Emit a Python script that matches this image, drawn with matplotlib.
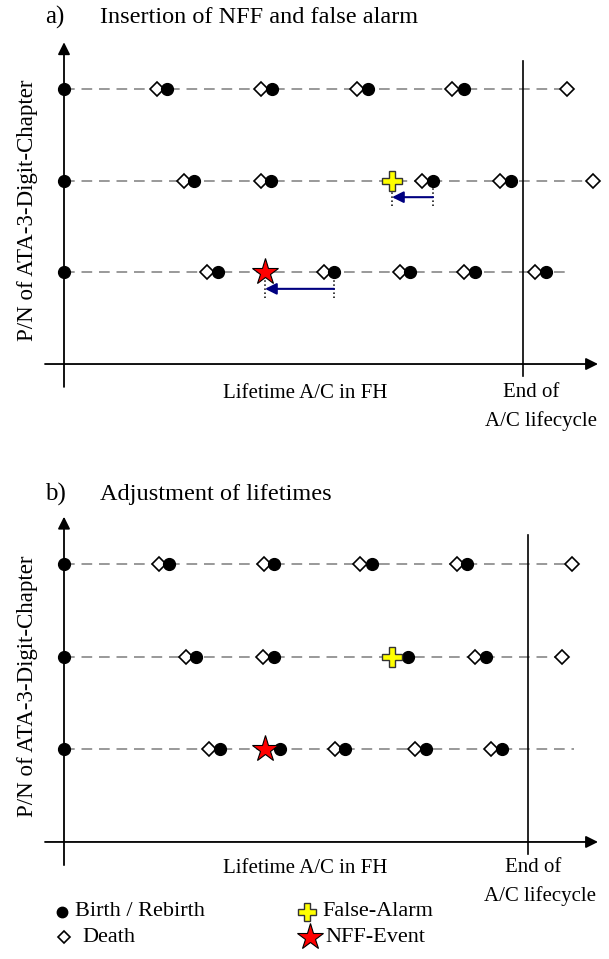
import matplotlib.pyplot as plt

plt.rcParams['font.family'] = ['Liberation Serif', 'DejaVu Serif']

# lifetimes in FH, rows from bottom (1) to top (3)
A_BIRTH = [
    [0, 15350, 27000, 34600, 41100, 48150],
    [0, 13000, 20700, 36900, 44700],
    [0, 10300, 20800, 30400, 40000],
]
A_DEATH = [
    [14300, 25950, 33550, 40000, 47100],
    [11950, 19650, 35800, 43600, 52900],
    [9250, 19650, 29300, 38800, 50300],
]
A_LINE_END = [50600, 52900, 50300]
A_NFF = [20100, 1]
A_FALSE_ALARM = [32800, 2]
A_SHIFT_FROM = [27000, 36900]
A_SHIFT_TO = [20100, 32800]
A_SHIFT_ROW = [1, 2]
A_EOL = 45900

B_BIRTH = [
    [0, 15550, 21600, 28100, 36200, 43750],
    [0, 13200, 20950, 34350, 42150],
    [0, 10450, 21000, 30750, 40300],
]
B_DEATH = [
    [14500, 27050, 35050, 42650],
    [12150, 19900, 41050, 49750],
    [9450, 20000, 29600, 39250, 50800],
]
B_LINE_END = [51000, 49750, 50800]
B_NFF = [20100, 1]
B_FALSE_ALARM = [32800, 2]
B_EOL = 46400

LEGEND_LABELS = ['Birth / Rebirth', 'Death', 'False-Alarm', 'NFF-Event']

DOT = dict(marker='o', ms=8.5, color='black', ls='none', zorder=4)
DIA = dict(marker='D', ms=7.2, mfc='white', mec='black', mew=1.2, ls='none', zorder=3)
STAR = dict(marker='*', ms=20, mfc='#ff0000', mec='black', mew=0.8, ls='none', zorder=5)
CROSS = dict(marker='P', ms=14, mfc='#ffff00', mec='#333333', mew=1.0, ls='none', zorder=5)
FS = 15


def axes_arrows(ax, x_end, y_top):
    ap = dict(arrowstyle='-|>', color='black', lw=1.3, mutation_scale=18, shrinkA=0, shrinkB=0)
    ax.annotate('', xy=(x_end, 0), xytext=(-1900, 0), arrowprops=ap)
    ax.annotate('', xy=(0, y_top), xytext=(0, -0.25), arrowprops=ap)


def draw_panel(ax, births, deaths, line_end, nff, fa, eol, letter, title, title_y):
    for i in range(3):
        row = i + 1
        l, = ax.plot([0, line_end[i]], [row, row], color='#999999', lw=1.4, zorder=1)
        l.set_dashes((5.5, 3.5))
        ax.plot(deaths[i], [row] * len(deaths[i]), **DIA)
        ax.plot(births[i], [row] * len(births[i]), **DOT)
    ax.plot([nff[0]], [nff[1]], **STAR)
    ax.plot([fa[0]], [fa[1]], **CROSS)
    axes_arrows(ax, 53400, 3.51)
    ax.plot([eol, eol], [-0.13, 3.31], color='black', lw=1.2, zorder=2)
    ax.text(-1900, title_y, letter, fontsize=18, va='center', ha='left')
    ax.text(3600, title_y, title, fontsize=17.5, va='center', ha='left')
    ax.text(-3600, 1.68, 'P/N of ATA-3-Digit-Chapter', fontsize=16.5, rotation=90,
            ha='center', va='center')


fig = plt.figure(figsize=(6.09, 9.59), dpi=100)

# a) insertion of NFF and false alarm
ax1 = fig.add_axes([0, 1 - 450 / 959, 1, 450 / 959])
ax1.set_xlim(-6400, 54500)
ax1.set_ylim(-0.938, 3.971)
ax1.axis('off')
draw_panel(ax1, A_BIRTH, A_DEATH, A_LINE_END, A_NFF, A_FALSE_ALARM, A_EOL,
           'a)', 'Insertion of NFF and false alarm', 3.785)
for i in range(2):
    r = A_SHIFT_ROW[i]
    for xv in (A_SHIFT_FROM[i], A_SHIFT_TO[i]):
        ax1.plot([xv, xv], [r - 0.28, r], color='black', ls=':', lw=1.1, zorder=2)
    ax1.annotate('', xy=(A_SHIFT_TO[i], r - 0.18), xytext=(A_SHIFT_FROM[i], r - 0.18),
                 arrowprops=dict(arrowstyle='-|>', color='#000080', lw=1.5,
                                 mutation_scale=17, shrinkA=0, shrinkB=0))
ax1.text(24100, -0.32, 'Lifetime A/C in FH', fontsize=FS, ha='center', va='center')
ax1.text(A_EOL + 800, -0.31, 'End of', fontsize=FS, ha='center', va='center')
ax1.text(A_EOL + 1800, -0.62, 'A/C lifecycle', fontsize=FS, ha='center', va='center')

# b) adjustment of lifetimes
ax2 = fig.add_axes([0, 0, 1, 489 / 959])
ax2.set_xlim(-6400, 54500)
ax2.set_ylim(-1.263, 4.014)
ax2.axis('off')
draw_panel(ax2, B_BIRTH, B_DEATH, B_LINE_END, B_NFF, B_FALSE_ALARM, B_EOL,
           'b)', 'Adjustment of lifetimes', 3.745)
ax2.text(24100, -0.29, 'Lifetime A/C in FH', fontsize=FS, ha='center', va='center')
ax2.text(B_EOL + 500, -0.28, 'End of', fontsize=FS, ha='center', va='center')
ax2.text(B_EOL + 1200, -0.58, 'A/C lifecycle', fontsize=FS, ha='center', va='center')

# legend
ax2.plot([-200], [-0.755], **dict(DOT, ms=7.5))
ax2.plot([0], [-1.03], **dict(DIA, ms=6))
ax2.plot([24300], [-0.755], **dict(CROSS, ms=13))
ax2.plot([24600], [-1.03], **STAR)
ax2.text(1100, -0.755, LEGEND_LABELS[0], fontsize=16, va='center')
ax2.text(1800, -1.03, LEGEND_LABELS[1], fontsize=16, va='center')
ax2.text(25800, -0.755, LEGEND_LABELS[2], fontsize=16, va='center')
ax2.text(26100, -1.03, LEGEND_LABELS[3], fontsize=16, va='center')

fig.savefig('out.png', dpi=100)
